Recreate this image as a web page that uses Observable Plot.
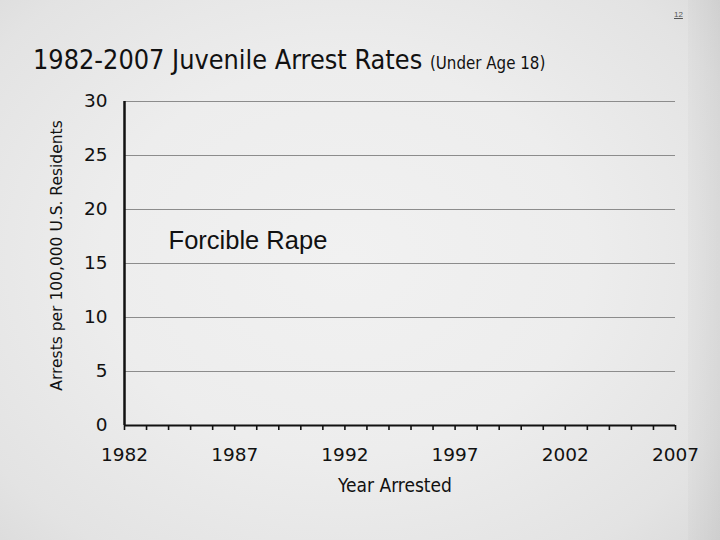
<!DOCTYPE html>
<html>
<head>
<meta charset="utf-8">
<script src="https://cdn.jsdelivr.net/npm/d3@7"></script>
<script src="https://cdn.jsdelivr.net/npm/@observablehq/plot@0.6"></script>
<style>
  html, body { margin: 0; padding: 0; }
  body {
    width: 720px; height: 540px; overflow: hidden; position: relative;
    background: radial-gradient(ellipse 75% 80% at 48% 48%, #f1f1f1 0%, #ededed 45%, #e3e3e3 80%, #d8d8d8 100%);
    font-family: "Liberation Sans", Arial, sans-serif;
  }
  #strip { position: absolute; left: 688px; top: 0; width: 32px; height: 540px;
    background: linear-gradient(to right, rgba(0,0,0,0.02), rgba(0,0,0,0.06)); }
  #pagenum { position: absolute; left: 674px; top: 10px; font-size: 8px; color: #555; text-decoration: underline; }
  #title { position: absolute; left: 33px; top: 44px; white-space: nowrap; color: #111;
    font-family: "Liberation Sans Narrow", "DejaVu Sans Condensed", sans-serif; font-size: 26.8px; }
  #title .sub { font-size: 16.8px; }
  #chart { position: absolute; left: 0; top: 80px; }
</style>
</head>
<body>
<div id="strip"></div>
<div id="pagenum">12</div>
<div id="title">1982-2007 Juvenile Arrest Rates <span class="sub">(Under Age 18)</span></div>
<div id="chart"></div>
<script>
// Axis ticks / categories
const yTicks = [0, 5, 10, 15, 20, 25, 30];
const gridValues = [5, 10, 15, 20, 25, 30];
const yearTicks = [1982, 1983, 1984, 1985, 1986, 1987, 1988, 1989, 1990, 1991, 1992, 1993, 1994,
                   1995, 1996, 1997, 1998, 1999, 2000, 2001, 2002, 2003, 2004, 2005, 2006, 2007];
const yearLabels = [1982, 1987, 1992, 1997, 2002, 2007];
const yAxisTitle = ["Arrests per 100,000 U.S. Residents"];
const xAxisTitle = ["Year Arrested"];
// Series label (no data line visible in the reference)
const seriesNames = ["Forcible Rape"];
const seriesLabelX = [1984];
const seriesLabelY = [17.1];

const labelData = seriesNames.map((name, i) => ({name, x: seriesLabelX[i], y: seriesLabelY[i]}));

const chart = Plot.plot({
  width: 720,
  height: 430,
  marginTop: 21,
  marginBottom: 85,
  marginLeft: 124,
  marginRight: 45,
  style: { background: "transparent", fontFamily: "'DejaVu Sans', Verdana, sans-serif", color: "#111" },
  x: { domain: [1982, 2007] },
  y: { domain: [0, 30] },
  marks: [
    Plot.ruleY(gridValues, { stroke: "#8c8c8c", strokeWidth: 1.2 }),
    Plot.axisY({
      ticks: yTicks, tickSize: 0, tickPadding: 17, fontSize: 18.5, label: null
    }),
    Plot.axisX({
      ticks: yearTicks, tickSize: 5, tickPadding: 17, fontSize: 18.5, stroke: "#111", strokeWidth: 1.6,
      tickFormat: d => yearLabels.includes(d) ? String(d) : "", label: null
    }),
    Plot.text(yAxisTitle, { text: d => d, frameAnchor: "left", textAnchor: "middle", rotate: -90, dx: -67, dy: -8,
      fontSize: 15.5, fill: "#111" }),
    Plot.text(xAxisTitle, { text: d => d, frameAnchor: "bottom", dx: -5, dy: 60, lineAnchor: "middle",
      fontSize: 19, fontFamily: "'Liberation Sans Narrow', 'DejaVu Sans Condensed', sans-serif", fill: "#111" }),
    Plot.ruleY([0], { stroke: "#111", strokeWidth: 2 }),
    Plot.ruleX([1982], { stroke: "#111", strokeWidth: 2.5 }),
    Plot.text(labelData, { x: "x", y: "y", text: "name", textAnchor: "start", lineAnchor: "middle",
      fontSize: 25.5, fontFamily: "'Liberation Sans', Arial, sans-serif", fill: "#111" })
  ]
});
document.getElementById("chart").appendChild(chart);
</script>
</body>
</html>
